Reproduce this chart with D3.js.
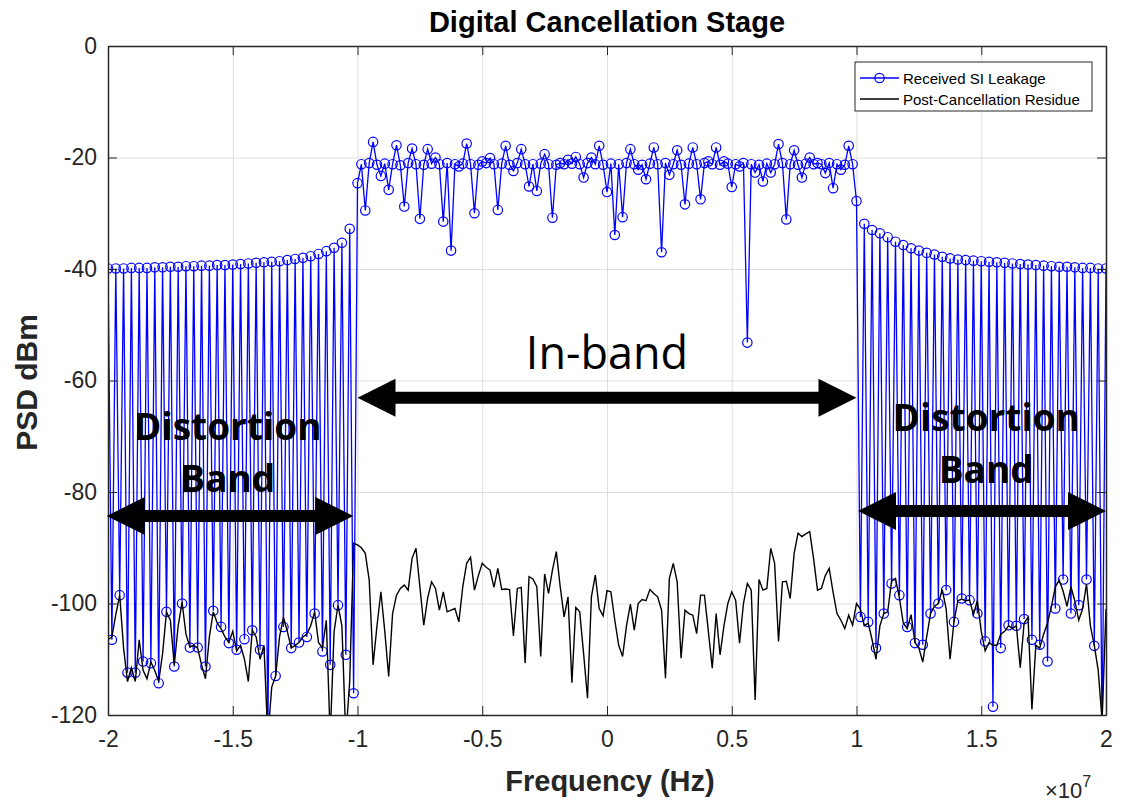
<!DOCTYPE html>
<html lang="en">
<head>
<meta charset="UTF-8">
<title>Digital Cancellation Stage</title>
<script src="https://d3js.org/d3.v7.min.js"></script>
<style>
    body { margin: 0; background: #fff; font-family: Arial, "Liberation Sans", sans-serif; }
    svg { display: block; }
    .ax text { font-family: Arial, "Liberation Sans", sans-serif; font-size: 23px; fill: #262626; }
    .ax path, .ax line { stroke: #262626; }
    .grid line { stroke: #dedede; }
    .grid path { stroke: none; }
</style>
</head>
<body>
<div id="container"></div>
<script>
// frequency grid (257 FFT bins, -20 MHz .. 20 MHz)
const nBins = 257;
const fStep = 156250;
const freq = d3.range(nBins).map(i => -2e7 + i * fStep);

// Received SI Leakage (blue)
const blueLeft = [
    -39.9, -106.5, -39.9, -98.5, -39.9, -112.4, -39.8, -112.4, -39.8, -110.4,
    -39.8, -110.7, -39.7, -114.3, -39.7, -101.5, -39.6, -111.3, -39.6, -100.0,
    -39.5, -107.9, -39.5, -107.9, -39.4, -111.3, -39.4, -101.3, -39.3, -104.2,
    -39.3, -107.1, -39.2, -108.3, -39.1, -106.4, -39.0, -104.8, -38.9, -108.3,
    -38.8, -124.0, -38.7, -113.0, -38.6, -104.2, -38.4, -108.0, -38.2, -107.0,
    -38.0, -106.0, -37.7, -101.8, -37.3, -108.6, -36.8, -111.0, -36.2, -100.3,
    -35.3, -109.2, -32.8, -116.1
];
const blueIn = [
    -24.6, -21.2, -29.5, -21.0, -17.2, -21.3, -23.3, -21.1, -25.8, -21.2,
    -17.8, -21.4, -28.8, -21.0, -18.4, -21.2, -31.0, -21.3, -18.5, -21.1,
    -20.0, -21.2, -31.5, -21.0, -36.7, -21.2, -21.6, -21.1, -17.5, -21.2,
    -30.0, -21.3, -20.7, -21.0, -20.1, -21.2, -29.4, -21.1, -17.9, -21.3,
    -22.4, -21.0, -18.5, -21.2, -25.2, -21.2, -26.0, -21.1, -19.4, -21.2,
    -30.8, -21.3, -21.0, -21.2, -20.4, -21.1, -19.9, -21.2, -23.6, -21.0,
    -20.0, -21.2, -17.9, -21.3, -26.2, -21.1, -33.9, -21.2, -30.7, -21.0,
    -18.5, -21.2, -22.2, -21.3, -23.9, -21.1, -18.2, -21.2, -37.0, -21.0,
    -23.1, -21.2, -18.7, -21.3, -28.4, -21.1, -18.2, -21.2, -27.5, -21.0,
    -20.7, -21.2, -18.2, -21.3, -20.7, -21.1, -25.3, -21.2, -21.6, -21.0,
    -53.2, -21.2, -22.7, -21.3, -24.3, -21.1, -22.7, -21.2, -17.6, -21.0,
    -31.1, -21.2, -18.7, -21.3, -23.6, -21.1, -20.0, -21.2, -21.0, -21.2,
    -22.8, -21.0, -25.5, -21.2, -22.2, -21.3, -17.9, -21.2, -27.8
];
const blueRight = [
    -102.4, -31.9, -103.3, -33.0, -108.0, -33.6, -101.8, -34.3, -96.4, -35.1,
    -98.5, -35.7, -104.2, -36.3, -107.1, -36.7, -107.4, -37.1, -101.8, -37.4,
    -100.0, -37.8, -97.6, -38.1, -103.3, -38.3, -99.1, -38.4, -99.4, -38.5,
    -101.8, -38.6, -106.8, -38.7, -118.5, -38.8, -108.0, -38.9, -103.9, -39.0,
    -104.0, -39.1, -102.8, -39.2, -106.5, -39.3, -107.4, -39.4, -110.4, -39.5,
    -100.9, -39.6, -95.7, -39.6, -101.8, -39.7, -100.3, -39.8, -95.7, -39.8,
    -107.6, -39.9, -125.0, -39.9
];

// Post-Cancellation Residue (black)
const blackLeft = [
    -106.5, -106.0, -102.0, -98.5, -108.0, -114.0, -111.5, -114.0, -106.5, -112.0,
    -113.5, -110.5, -112.0, -114.0, -109.0, -101.5, -103.0, -111.0, -104.0, -99.8,
    -105.5, -107.8, -107.5, -108.0, -111.0, -113.5, -106.0, -101.5, -103.5, -104.5,
    -106.0, -107.0, -105.0, -108.5, -107.5, -110.0, -114.0, -104.8, -106.0, -110.0,
    -107.5, -124.0, -115.0, -113.0, -106.0, -102.5, -105.0, -108.0, -107.5, -107.0,
    -106.0, -105.5, -104.0, -101.5, -107.0, -108.0, -103.0, -124.0, -105.0, -100.3,
    -104.0, -124.0, -114.0, -89.2
];
const blackIn = [
    -89.5, -90.0, -91.0, -95.8, -111.0, -104.0, -97.9, -105.0, -113.1, -101.8,
    -98.5, -97.3, -96.7, -97.6, -91.9, -90.1, -97.0, -103.9, -99.0, -96.1,
    -97.3, -101.2, -97.9, -101.5, -101.2, -100.9, -103.3, -97.0, -92.8, -91.7,
    -97.6, -95.0, -92.8, -93.5, -94.0, -97.1, -93.7, -97.5, -97.4, -97.5,
    -105.8, -97.3, -97.1, -110.7, -95.2, -95.6, -97.0, -109.5, -94.7, -98.2,
    -94.0, -90.7, -97.0, -102.4, -98.8, -114.2, -100.7, -101.5, -109.0, -117.0,
    -98.8, -94.9, -100.9, -102.2, -97.7, -97.9, -103.0, -107.5, -109.5, -104.0,
    -100.1, -104.8, -100.0, -99.3, -99.5, -97.5, -98.2, -98.8, -101.2, -113.4,
    -95.5, -92.8, -96.1, -109.8, -101.2, -101.8, -102.1, -105.4, -98.5, -98.5,
    -105.0, -111.6, -101.8, -109.2, -104.0, -100.0, -97.9, -99.4, -107.1, -100.0,
    -96.4, -97.6, -117.3, -95.7, -97.6, -97.3, -90.1, -92.8, -106.8, -96.1,
    -96.0, -99.1, -91.0, -87.4, -88.0, -87.5, -87.1, -92.0, -97.6, -97.3,
    -95.0, -93.7, -98.0, -101.8, -103.0, -104.5, -102.1, -103.9, -100.0
];
const blackRight = [
    -101.0, -104.0, -103.5, -106.5, -110.0, -104.0, -101.8, -101.5, -96.0, -95.5,
    -99.0, -103.5, -104.5, -102.0, -107.0, -108.0, -110.5, -106.0, -101.8, -100.5,
    -100.0, -97.5, -101.0, -110.0, -103.3, -99.5, -99.2, -99.5, -99.4, -102.0,
    -99.5, -105.0, -108.5, -107.0, -107.5, -107.5, -105.5, -105.0, -104.0, -104.5,
    -104.0, -111.5, -103.5, -102.5, -119.0, -107.5, -108.0, -105.5, -103.5, -100.5,
    -97.0, -95.8, -97.8, -100.5, -97.0, -99.5, -103.0, -101.0, -96.5, -104.0,
    -107.5, -112.0, -121.0, -101.0
];

const blueVals = blueLeft.concat(blueIn, blueRight);
const blackVals = blackLeft.concat(blackIn, blackRight);

// axis ticks
const xTicks = [-2e7, -1.5e7, -1e7, -0.5e7, 0, 0.5e7, 1e7, 1.5e7, 2e7];
const xTickLabels = ['-2', '-1.5', '-1', '-0.5', '0', '0.5', '1', '1.5', '2'];
const yTicks = [-120, -100, -80, -60, -40, -20, 0];
const yTickLabels = ['-120', '-100', '-80', '-60', '-40', '-20', '0'];

// annotations (data coordinates)
const arrows = [
    { f1: -2.005e7, f2: -1.017e7, v: -84.3 },
    { f1: -1.0e7, f2: 1.0e7, v: -63.1 },
    { f1: 1.006e7, f2: 2.0e7, v: -83.4 }
];
const bandLabels = [
    { text: 'Distortion', f: -1.52e7, v: -70.7, bold: true },
    { text: 'Band', f: -1.52e7, v: -80.0, bold: true },
    { text: 'Distortion', f: 1.52e7, v: -69.0, bold: true },
    { text: 'Band', f: 1.52e7, v: -78.3, bold: true },
    { text: 'In-band', f: 0, v: -58.0, bold: false }
];

const width = 1122, height = 802;
const margin = { left: 108, top: 46, right: 16, bottom: 87 };
const plotW = width - margin.left - margin.right;
const plotH = height - margin.top - margin.bottom;

const svg = d3.select('#container').append('svg')
    .attr('width', width)
    .attr('height', height);

svg.append('rect').attr('width', width).attr('height', height).attr('fill', '#fff');

const g = svg.append('g')
    .attr('transform', `translate(${margin.left},${margin.top})`);

const x = d3.scaleLinear().domain([-2e7, 2e7]).range([0, plotW]);
const y = d3.scaleLinear().domain([-120, 0]).range([plotH, 0]);

// grid
g.append('g').attr('class', 'grid')
    .attr('transform', `translate(0,${plotH})`)
    .call(d3.axisBottom(x).tickValues(xTicks).tickSize(-plotH).tickFormat(''));
g.append('g').attr('class', 'grid')
    .call(d3.axisLeft(y).tickValues(yTicks).tickSize(-plotW).tickFormat(''));

// clip
svg.append('defs').append('clipPath').attr('id', 'plotClip')
    .append('rect').attr('width', plotW).attr('height', plotH);

const plot = g.append('g').attr('clip-path', 'url(#plotClip)');

const blueData = freq.map((f, i) => ({ f: f, v: blueVals[i] }));
const blackData = freq.map((f, i) => ({ f: f, v: blackVals[i] }));

const line = d3.line().x(d => x(d.f)).y(d => y(d.v));

plot.append('path')
    .datum(blueData)
    .attr('d', line)
    .attr('fill', 'none')
    .attr('stroke', '#0000ff')
    .attr('stroke-width', 1.3);

plot.selectAll('.mk')
    .data(blueData).enter()
    .append('circle')
    .attr('class', 'mk')
    .attr('cx', d => x(d.f))
    .attr('cy', d => y(d.v))
    .attr('r', 4.7)
    .attr('fill', 'none')
    .attr('stroke', '#0000ff')
    .attr('stroke-width', 1.2);

plot.append('path')
    .datum(blackData)
    .attr('d', line)
    .attr('fill', 'none')
    .attr('stroke', '#000')
    .attr('stroke-width', 1.4);

// axes with inward ticks on all four sides
const fmtX = d => xTickLabels[xTicks.indexOf(d)];
const fmtY = d => yTickLabels[yTicks.indexOf(d)];

g.append('g').attr('class', 'ax')
    .attr('transform', `translate(0,${plotH})`)
    .call(d3.axisBottom(x).tickValues(xTicks).tickSize(-9).tickSizeOuter(0).tickPadding(16).tickFormat(fmtX));
g.append('g').attr('class', 'ax')
    .call(d3.axisTop(x).tickValues(xTicks).tickSize(-9).tickSizeOuter(0).tickFormat(''));
g.append('g').attr('class', 'ax')
    .call(d3.axisLeft(y).tickValues(yTicks).tickSize(-9).tickSizeOuter(0).tickPadding(11).tickFormat(fmtY));
g.append('g').attr('class', 'ax')
    .attr('transform', `translate(${plotW},0)`)
    .call(d3.axisRight(y).tickValues(yTicks).tickSize(-9).tickSizeOuter(0).tickFormat(''));

g.selectAll('.ax .domain').attr('stroke-width', 1.5);
g.selectAll('.ax text').attr('font-size', 24);

// exponent label
const expo = svg.append('text')
    .attr('x', 1045)
    .attr('y', 798)
    .attr('font-size', 22)
    .attr('fill', '#262626');
expo.append('tspan').text('\u00d710');
expo.append('tspan').attr('font-size', 16).attr('dy', -11).text('7');

// titles
svg.append('text')
    .attr('x', margin.left + plotW / 2)
    .attr('y', 32)
    .attr('text-anchor', 'middle')
    .attr('font-size', 29)
    .attr('font-weight', 'bold')
    .attr('fill', '#000')
    .text('Digital Cancellation Stage');

svg.append('text')
    .attr('x', margin.left + plotW / 2 + 3)
    .attr('y', 791)
    .attr('text-anchor', 'middle')
    .attr('font-size', 29)
    .attr('font-weight', 'bold')
    .attr('fill', '#262626')
    .text('Frequency (Hz)');

svg.append('text')
    .attr('transform', `translate(37,${margin.top + plotH / 2 + 2}) rotate(-90)`)
    .attr('text-anchor', 'middle')
    .attr('font-size', 30)
    .attr('font-weight', 'bold')
    .attr('fill', '#262626')
    .text('PSD dBm');

// legend
const lg = svg.append('g').attr('transform', 'translate(855,62)');
lg.append('rect')
    .attr('width', 237).attr('height', 49)
    .attr('fill', '#fff').attr('stroke', '#262626').attr('stroke-width', 1);
lg.append('line').attr('x1', 5).attr('x2', 44).attr('y1', 16).attr('y2', 16)
    .attr('stroke', '#0000ff').attr('stroke-width', 1.3);
lg.append('circle').attr('cx', 24.5).attr('cy', 16).attr('r', 4.7)
    .attr('fill', 'none').attr('stroke', '#0000ff').attr('stroke-width', 1.2);
lg.append('line').attr('x1', 5).attr('x2', 44).attr('y1', 37).attr('y2', 37)
    .attr('stroke', '#000').attr('stroke-width', 1.4);
lg.selectAll('.lt')
    .data(['Received SI Leakage', 'Post-Cancellation Residue'])
    .enter().append('text')
    .attr('x', 48)
    .attr('y', (d, i) => 21.5 + i * 21)
    .attr('font-size', 15)
    .attr('fill', '#000')
    .text(d => d);

// annotations
const ann = svg.append('g').attr('transform', `translate(${margin.left},${margin.top})`);

function doubleArrow(x1, x2, yy, shaft, headL, headH) {
    return `M${x1},${yy} L${x1 + headL},${yy - headH} L${x1 + headL},${yy - shaft / 2} ` +
        `L${x2 - headL},${yy - shaft / 2} L${x2 - headL},${yy - headH} L${x2},${yy} ` +
        `L${x2 - headL},${yy + headH} L${x2 - headL},${yy + shaft / 2} L${x1 + headL},${yy + shaft / 2} ` +
        `L${x1 + headL},${yy + headH} Z`;
}

ann.selectAll('.arrow')
    .data(arrows).enter()
    .append('path')
    .attr('class', 'arrow')
    .attr('d', d => doubleArrow(x(d.f1), x(d.f2), y(d.v), 12, 38, 19))
    .attr('fill', '#000');

ann.selectAll('.blabel')
    .data(bandLabels).enter()
    .append('text')
    .attr('class', 'blabel')
    .attr('x', d => x(d.f))
    .attr('y', d => y(d.v))
    .attr('text-anchor', 'middle')
    .attr('font-family', '"Open Sans", "Noto Sans", sans-serif')
    .attr('font-size', d => d.bold ? 37 : 45)
    .attr('font-weight', d => d.bold ? 'bold' : 'normal')
    .attr('fill', '#000')
    .text(d => d.text);
</script>
</body>
</html>
